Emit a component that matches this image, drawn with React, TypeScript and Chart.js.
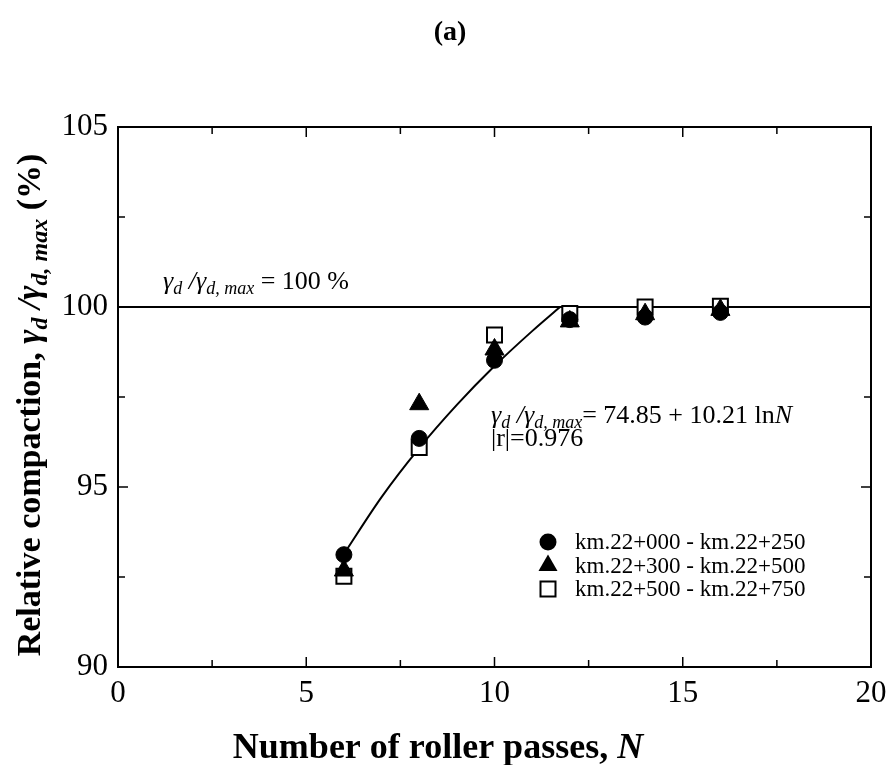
import React, { useEffect, useRef } from 'react';
import { Chart, registerables } from 'chart.js';
Chart.register(...registerables);

// ---- data ----
const passes = [6, 8, 10, 12, 14, 16];
const seriesA = [93.12, 96.35, 98.52, 99.65, 99.72, 99.85];
const seriesB = [92.68, 97.3, 98.82, 99.6, 99.8, 99.92];
const seriesC = [92.52, 96.1, 99.22, 99.82, 100.0, 100.02];
const labelA = 'km.22+000 - km.22+250';
const labelB = 'km.22+300 - km.22+500';
const labelC = 'km.22+500 - km.22+750';
const fitN = [6, 7, 8, 9, 10, 11, 11.74];
const fitY = [93.14, 94.72, 96.08, 97.28, 98.36, 99.33, 100.0];
const refN = [0, 20];
const refY = [100, 100];
const xTicks = [0, 5, 10, 15, 20];
const yTicks = [90, 95, 100, 105];
const xMinor = [2.5, 7.5, 12.5, 17.5];
const yMinor = [92.5, 97.5, 102.5];

const SERIF = "'Liberation Serif', 'Times New Roman', serif";

type Seg = { t: string; font: string; dy?: number };

function drawRich(ctx: CanvasRenderingContext2D, segs: Seg[], x: number, y: number, align: 'left' | 'center') {
  let total = 0;
  for (const s of segs) {
    ctx.font = s.font;
    total += ctx.measureText(s.t).width;
  }
  let cx = align === 'center' ? x - total / 2 : x;
  ctx.textAlign = 'left';
  for (const s of segs) {
    ctx.font = s.font;
    ctx.fillText(s.t, cx, y + (s.dy || 0));
    cx += ctx.measureText(s.t).width;
  }
}

function drawMarker(ctx: CanvasRenderingContext2D, style: string, x: number, y: number) {
  ctx.save();
  ctx.lineWidth = 2;
  ctx.strokeStyle = '#000';
  ctx.fillStyle = '#000';
  ctx.beginPath();
  if (style === 'circle') {
    ctx.arc(x, y, 8.5, 0, Math.PI * 2);
    ctx.fill();
  } else if (style === 'triangle') {
    const r = 11;
    ctx.moveTo(x, y - r);
    ctx.lineTo(x + r * Math.sin((2 * Math.PI) / 3), y - r * Math.cos((2 * Math.PI) / 3));
    ctx.lineTo(x + r * Math.sin((4 * Math.PI) / 3), y - r * Math.cos((4 * Math.PI) / 3));
    ctx.closePath();
    ctx.fill();
  } else {
    ctx.fillStyle = '#fff';
    ctx.rect(x - 7.5, y - 7.5, 15, 15);
    ctx.fill();
    ctx.stroke();
  }
  ctx.restore();
}

const framePlugin = {
  id: 'frameAndText',
  afterDraw(chart: any) {
    const ctx: CanvasRenderingContext2D = chart.ctx;
    const { left, right, top, bottom } = chart.chartArea;
    const xs = chart.scales.x;
    const ys = chart.scales.y;
    ctx.save();
    ctx.strokeStyle = '#000';
    ctx.fillStyle = '#000';
    // frame
    ctx.lineWidth = 2;
    ctx.strokeRect(left, top, right - left, bottom - top);
    // ticks (inward, all four sides)
    const major = 10, minor = 7;
    ctx.lineWidth = 1.5;
    ctx.beginPath();
    for (const v of xTicks) {
      const p = xs.getPixelForValue(v);
      ctx.moveTo(p, bottom); ctx.lineTo(p, bottom - major);
      ctx.moveTo(p, top); ctx.lineTo(p, top + major);
    }
    for (const v of xMinor) {
      const p = xs.getPixelForValue(v);
      ctx.moveTo(p, bottom); ctx.lineTo(p, bottom - minor);
      ctx.moveTo(p, top); ctx.lineTo(p, top + minor);
    }
    for (const v of yTicks) {
      const p = ys.getPixelForValue(v);
      ctx.moveTo(left, p); ctx.lineTo(left + major, p);
      ctx.moveTo(right, p); ctx.lineTo(right - major, p);
    }
    for (const v of yMinor) {
      const p = ys.getPixelForValue(v);
      ctx.moveTo(left, p); ctx.lineTo(left + minor, p);
      ctx.moveTo(right, p); ctx.lineTo(right - minor, p);
    }
    ctx.stroke();

    // tick labels
    ctx.font = `31px ${SERIF}`;
    ctx.textBaseline = 'middle';
    ctx.textAlign = 'center';
    for (const v of xTicks) {
      ctx.fillText(String(v), xs.getPixelForValue(v), bottom + 27);
    }
    ctx.textAlign = 'right';
    for (const v of yTicks) {
      ctx.fillText(String(v), left - 10, ys.getPixelForValue(v));
    }

    // title (a)
    ctx.textBaseline = 'alphabetic';
    ctx.textAlign = 'center';
    ctx.font = `bold 28px ${SERIF}`;
    ctx.fillText('(a)', 450, 40);

    // x-axis title
    drawRich(ctx, [
      { t: 'Number of roller passes, ', font: `bold 36px ${SERIF}` },
      { t: 'N', font: `italic bold 36px ${SERIF}` },
    ], 438, 758, 'center');

    // y-axis title (rotated)
    ctx.save();
    ctx.translate(40, 405);
    ctx.rotate(-Math.PI / 2);
    drawRich(ctx, [
      { t: 'Relative compaction, ', font: `bold 34px ${SERIF}` },
      { t: 'γ', font: `italic bold 34px ${SERIF}` },
      { t: 'd', font: `italic bold 24px ${SERIF}`, dy: 7 },
      { t: ' /', font: `italic bold 34px ${SERIF}` },
      { t: 'γ', font: `italic bold 34px ${SERIF}` },
      { t: 'd, max', font: `italic bold 24px ${SERIF}`, dy: 7 },
      { t: ' (%)', font: `bold 34px ${SERIF}` },
    ], 0, 0, 'center');
    ctx.restore();

    // reference-line label
    drawRich(ctx, [
      { t: 'γ', font: `italic 26px ${SERIF}` },
      { t: 'd', font: `italic 18px ${SERIF}`, dy: 5 },
      { t: ' /', font: `italic 26px ${SERIF}` },
      { t: 'γ', font: `italic 26px ${SERIF}` },
      { t: 'd, max', font: `italic 18px ${SERIF}`, dy: 5 },
      { t: ' = 100 %', font: `26px ${SERIF}` },
    ], 163, 289, 'left');

    // regression equation
    drawRich(ctx, [
      { t: 'γ', font: `italic 26px ${SERIF}` },
      { t: 'd', font: `italic 18px ${SERIF}`, dy: 5 },
      { t: ' /', font: `italic 26px ${SERIF}` },
      { t: 'γ', font: `italic 26px ${SERIF}` },
      { t: 'd, max', font: `italic 18px ${SERIF}`, dy: 5 },
      { t: '= 74.85 + 10.21 ln', font: `26px ${SERIF}` },
      { t: 'N', font: `italic 26px ${SERIF}` },
    ], 491, 423, 'left');
    ctx.font = `26px ${SERIF}`;
    ctx.textAlign = 'left';
    ctx.fillText('|r|=0.976', 491, 446);

    // legend
    const legendItems = chart.data.datasets.filter((d: any) => d.legendStyle);
    const lx = 548, ly0 = 542, step = 23.5;
    legendItems.forEach((d: any, i: number) => {
      const y = ly0 + i * step;
      drawMarker(ctx, d.legendStyle, lx, y);
      ctx.font = `23px ${SERIF}`;
      ctx.textBaseline = 'middle';
      ctx.textAlign = 'left';
      ctx.fillStyle = '#000';
      ctx.fillText(d.label, 575, y + 1);
    });
    ctx.restore();
  },
};

export default function App() {
  const ref = useRef<HTMLCanvasElement | null>(null);
  useEffect(() => {
    if (!ref.current) return;
    const toPts = (xs: number[], ys: number[]) => xs.map((x, i) => ({ x, y: ys[i] }));
    const chart = new Chart(ref.current, {
      type: 'scatter',
      data: {
        datasets: [
          {
            label: labelA,
            legendStyle: 'circle',
            data: toPts(passes, seriesA),
            pointStyle: 'circle',
            pointRadius: 8,
            pointHoverRadius: 8,
            backgroundColor: '#000',
            borderColor: '#000',
            borderWidth: 1,
            showLine: false,
          } as any,
          {
            label: labelB,
            legendStyle: 'triangle',
            data: toPts(passes, seriesB),
            pointStyle: 'triangle',
            pointRadius: 11,
            pointHoverRadius: 11,
            backgroundColor: '#000',
            borderColor: '#000',
            borderWidth: 1,
            showLine: false,
          } as any,
          {
            label: labelC,
            legendStyle: 'rect',
            data: toPts(passes, seriesC),
            pointStyle: 'rect',
            pointRadius: 10.6,
            pointHoverRadius: 10.6,
            backgroundColor: '#fff',
            borderColor: '#000',
            borderWidth: 2,
            showLine: false,
          } as any,
          {
            label: 'fit',
            type: 'line',
            data: toPts(fitN, fitY),
            borderColor: '#000',
            borderWidth: 2,
            pointRadius: 0,
            cubicInterpolationMode: 'monotone',
            fill: false,
          } as any,
          {
            label: 'ref',
            type: 'line',
            data: toPts(refN, refY),
            borderColor: '#000',
            borderWidth: 2,
            pointRadius: 0,
            fill: false,
          } as any,
        ],
      },
      options: {
        responsive: false,
        animation: false,
        layout: { padding: { left: 118, top: 127, right: 17, bottom: 98 } },
        plugins: { legend: { display: false }, tooltip: { enabled: false } },
        scales: {
          x: { type: 'linear', min: 0, max: 20, display: false },
          y: { type: 'linear', min: 90, max: 105, display: false },
        },
      },
      plugins: [framePlugin],
    });
    return () => chart.destroy();
  }, []);
  return (
    <div style={{ position: 'fixed', left: 0, top: 0, width: 888, height: 765, background: '#fff' }}>
      <canvas ref={ref} width={888} height={765} />
    </div>
  );
}
